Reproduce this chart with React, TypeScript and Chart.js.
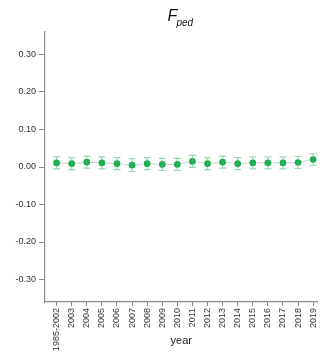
import React, { useEffect, useRef } from "react";
import { Chart, registerables } from "chart.js";

Chart.register(...registerables);

const categories = ["1985-2002", "2003", "2004", "2005", "2006", "2007", "2008", "2009", "2010", "2011", "2012", "2013", "2014", "2015", "2016", "2017", "2018", "2019"];
const values = [0.011, 0.009, 0.013, 0.011, 0.009, 0.005, 0.009, 0.007, 0.007, 0.015, 0.009, 0.013, 0.009, 0.011, 0.011, 0.011, 0.012, 0.020];
const errLow = [0.016, 0.016, 0.016, 0.016, 0.016, 0.017, 0.016, 0.016, 0.016, 0.016, 0.016, 0.016, 0.016, 0.016, 0.016, 0.016, 0.016, 0.016];
const errHigh = [0.016, 0.016, 0.016, 0.016, 0.016, 0.017, 0.016, 0.016, 0.016, 0.016, 0.016, 0.016, 0.016, 0.016, 0.016, 0.016, 0.016, 0.016];
const yTicks = [0.3, 0.2, 0.1, 0.0, -0.1, -0.2, -0.3];

const FONT = "'Liberation Sans', Arial, sans-serif";

export default function App() {
  const ref = useRef<HTMLCanvasElement>(null);
  useEffect(() => {
    document.body.style.margin = "0";
    const ctx = ref.current!.getContext("2d")!;
    const errorBars = {
      id: "errorBars",
      afterDatasetsDraw(chart: any) {
        const c = chart.ctx;
        const xs = chart.scales.x;
        const ys = chart.scales.y;
        c.save();
        c.strokeStyle = "rgba(70,185,110,0.55)";
        c.lineWidth = 1.2;
        values.forEach((v, i) => {
          const x = xs.getPixelForValue(i);
          const yT = ys.getPixelForValue(v + errHigh[i]);
          const yB = ys.getPixelForValue(v - errLow[i]);
          c.beginPath();
          c.moveTo(x, yT);
          c.lineTo(x, yB);
          c.moveTo(x - 3.5, yT);
          c.lineTo(x + 3.5, yT);
          c.moveTo(x - 3.5, yB);
          c.lineTo(x + 3.5, yB);
          c.stroke();
        });
        c.restore();
      },
    };
    const titlePlugin = {
      id: "titleSub",
      afterDraw(chart: any) {
        const c = chart.ctx;
        c.save();
        c.fillStyle = "#111";
        c.textBaseline = "alphabetic";
        c.textAlign = "left";
        c.font = `italic 16px ${FONT}`;
        c.fillText("F", 167.5, 20.5);
        c.font = `italic 10px ${FONT}`;
        c.fillText("ped", 176.5, 25.5);
        c.restore();
      },
    };
    const chart = new Chart(ctx, {
      type: "line",
      data: {
        datasets: [
          {
            data: values.map((v, i) => ({ x: i, y: v })),
            borderColor: "#c9d0d6",
            borderWidth: 1,
            pointBackgroundColor: "#1aad4f",
            pointBorderColor: "#1aad4f",
            pointRadius: 3.3,
            pointBorderWidth: 0,
            tension: 0,
            order: 0,
          },
        ],
      },
      plugins: [errorBars, titlePlugin],
      options: {
        animation: false,
        responsive: false,
        layout: { padding: { left: 0, right: 4, top: 32, bottom: 0 } },
        plugins: { legend: { display: false }, tooltip: { enabled: false } },
        scales: {
          x: {
            type: "linear",
            min: -0.77,
            max: 17.29,
            afterBuildTicks: (s: any) => {
              s.ticks = categories.map((_, i) => ({ value: i }));
            },
            afterFit: (s: any) => {
              s.height = 50;
            },
            border: { display: true, color: "#8a8a8a", width: 1.2 },
            grid: { display: true, drawOnChartArea: false, drawTicks: true, tickLength: 4, color: "#8a8a8a" },
            ticks: {
              autoSkip: false,
              maxRotation: 90,
              minRotation: 90,
              padding: 2,
              color: "#333",
              font: { family: FONT, size: 9 },
              callback: (v: any) => categories[Math.round(v)] ?? "",
            },
            title: {
              display: true,
              text: "year",
              color: "#222",
              font: { family: FONT, size: 11 },
              padding: { top: 0, bottom: 4 },
            },
          },
          y: {
            type: "linear",
            min: -0.36,
            max: 0.36,
            afterBuildTicks: (s: any) => {
              s.ticks = yTicks.map((v) => ({ value: v }));
            },
            afterFit: (s: any) => {
              s.width = 45;
            },
            border: { display: true, color: "#8a8a8a", width: 1.2 },
            grid: { display: true, drawOnChartArea: false, drawTicks: true, tickLength: 6, color: "#8a8a8a" },
            ticks: {
              padding: 3,
              color: "#333",
              font: { family: FONT, size: 9 },
              callback: (v: any) => Number(v).toFixed(2),
            },
          },
        },
      },
    });
    return () => chart.destroy();
  }, []);
  return (
    <div style={{ width: 326, height: 352 }}>
      <canvas ref={ref} width={326} height={352} style={{ display: "block" }} />
    </div>
  );
}
